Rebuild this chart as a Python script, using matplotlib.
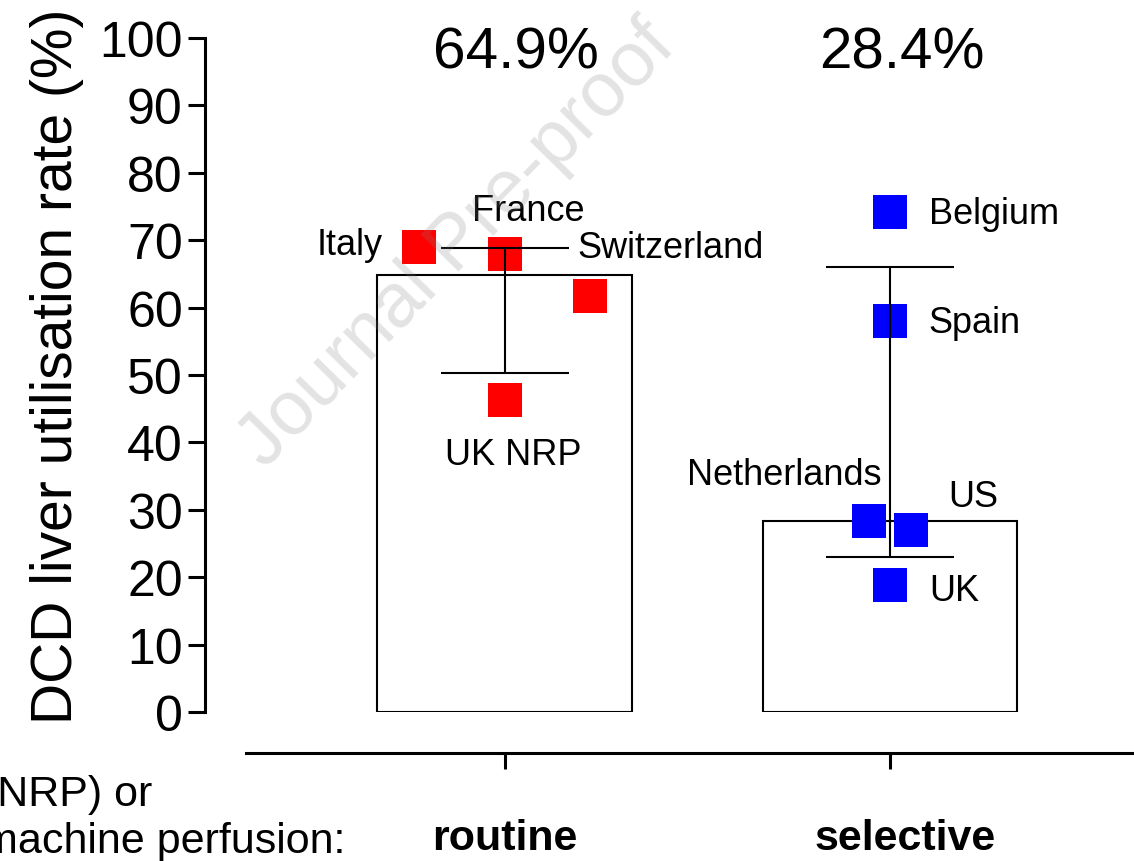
import numpy as np
import matplotlib
matplotlib.use("Agg")
import matplotlib.pyplot as plt
from matplotlib.transforms import ScaledTranslation

plt.rcParams['font.family'] = ['Liberation Sans', 'DejaVu Sans']

# group bars (pooled utilisation rate, %)
groups = ["routine", "selective"]
bar_values = [64.9, 28.4]
err_low = [50.3, 23.0]
err_high = [68.8, 66.0]

# individual countries
routine_names = ["Italy", "France", "Switzerland", "UK NRP"]
routine_values = [69.0, 68.0, 61.7, 46.3]
selective_names = ["Belgium", "Spain", "Netherlands", "US", "UK"]
selective_values = [74.2, 58.0, 28.3, 27.0, 18.8]

# horizontal jitter of the points and label placement (layout only)
routine_dx = [-0.222, 0.0, 0.222, 0.0]
selective_dx = [0.0, 0.0, -0.054, 0.054, 0.0]
routine_lab = [((-26, 2), 'right'), ((17, 31), 'center'), ((-9, 35), 'left'), ((6, -39), 'center')]
selective_lab = [((28, -1), 'left'), ((28, -1), 'left'), ((9, 34), 'right'),
                 ((27, 24), 'left'), ((28, -4), 'left')]

W, H = 1134, 862
fig = plt.figure(figsize=(W / 100, H / 100), dpi=100)
ax = fig.add_axes([205 / W, (H - 713) / H, (W - 205) / W, 674 / H])

x = np.arange(len(groups))
ax.bar(x, bar_values, width=0.66, facecolor='white', edgecolor='black',
       linewidth=1.5, zorder=1)

mid = [(lo + hi) / 2 for lo, hi in zip(err_low, err_high)]
half = [(hi - lo) / 2 for lo, hi in zip(err_low, err_high)]
ax.errorbar(x, mid, yerr=half, fmt='none', ecolor='black', elinewidth=1.5,
            capsize=46, capthick=1.5, zorder=4)

for gx, names, vals, dxs, labs, col in [
        (0, routine_names, routine_values, routine_dx, routine_lab, '#ff0000'),
        (1, selective_names, selective_values, selective_dx, selective_lab, '#0000ff')]:
    px = [gx + d for d in dxs]
    ax.plot(px, vals, 's', color=col, markersize=24.5, markeredgewidth=0,
            zorder=3, clip_on=False)
    for name, xx, yy, (off, ha) in zip(names, px, vals, labs):
        ax.annotate(name, (xx, yy), xytext=off, textcoords='offset points',
                    ha=ha, va='center', fontsize=26, zorder=5)

for xi, v in zip(x, bar_values):
    ax.text(xi + 0.03, 97.8, f"{v:.1f}%", ha='center', va='center', fontsize=42)

ax.set_xlim(-0.777, 1.633)
ax.set_ylim(0, 100)
ax.set_yticks(np.arange(0, 101, 10))
ax.tick_params(axis='y', labelsize=36, length=12, width=2.2, pad=4)
ax.set_ylabel("DCD liver utilisation rate (%)", fontsize=41, labelpad=11)
ax.yaxis.label.set_y(0.515)

ax.spines['top'].set_visible(False)
ax.spines['right'].set_visible(False)
ax.spines['left'].set_linewidth(2.2)
ax.spines['left'].set_bounds(0, 100)
ax.spines['bottom'].set_linewidth(2.2)
ax.spines['bottom'].set_position(('outward', 29.5))
ax.spines['bottom'].set_bounds(-0.67, 1.633)
ax.set_xticks(x)
ax.set_xticklabels(groups, fontsize=31, fontweight='bold')
ax.tick_params(axis='x', length=11.5, width=2.2, pad=35)
# the "selective" label sits a little right of its tick in the original
lab = ax.get_xticklabels()[1]
lab.set_transform(lab.get_transform() + ScaledTranslation(0.15, 0, fig.dpi_scale_trans))

fig.text(152 / W, 1 - 795 / H, "(NRP) or", ha='right', va='center', fontsize=31)
fig.text(345 / W, 1 - 842 / H, "machine perfusion:", ha='right', va='center', fontsize=31)

fig.text(457 / W, 1 - 245 / H, "Journal Pre-proof", rotation=45.6, fontsize=55,
         color='gray', alpha=0.22, ha='center', va='center', zorder=10)

fig.savefig("out.png", dpi=100)
